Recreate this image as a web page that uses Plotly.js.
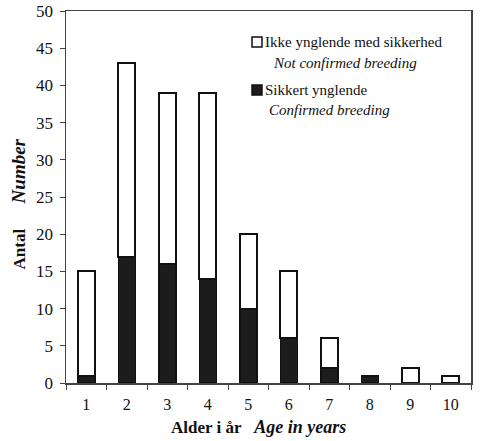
<!DOCTYPE html>
<html>
<head>
<meta charset="utf-8">
<script src="https://cdn.plot.ly/plotly-3.0.1.min.js"></script>
<style>html,body{margin:0;padding:0;background:#fff;}#chart{width:485px;height:441px;}</style>
</head>
<body>
<div id="chart"></div>
<script>
const ages = ['1','2','3','4','5','6','7','8','9','10'];
const confirmed = [1, 17, 16, 14, 10, 6, 2, 1, 0, 0];
const notConfirmed = [14, 26, 23, 25, 10, 9, 4, 0, 2, 1];
const yTicks = [0, 5, 10, 15, 20, 25, 30, 35, 40, 45, 50];
const legendLabels = [
  ['Ikke ynglende med sikkerhed', 'Not confirmed breeding'],
  ['Sikkert ynglende', 'Confirmed breeding']
];
const xTitle = ['Alder i år', 'Age in years'];
const yTitle = ['Antal', 'Number'];

const serif = "'Liberation Serif', 'Times New Roman', serif";
const ink = '#111';
const NB = '\u00a0';

// plot area in pixels (for placing the hand-drawn legend and titles)
const M = {l: 66, r: 14, t: 11, b: 58};
const W = 485, H = 441;
const pw = W - M.l - M.r, ph = H - M.t - M.b;
const px = x => (x - M.l) / pw;
const py = y => 1 - (y - M.t) / ph;

const traces = [
  {
    type: 'bar', x: ages, y: confirmed, name: legendLabels[1].join(' '),
    marker: {color: '#1c1c1c', line: {color: ink, width: 1.5}}
  },
  {
    type: 'bar', x: ages, y: notConfirmed, name: legendLabels[0].join(' '),
    marker: {color: '#ffffff', line: {color: ink, width: 2}}
  }
];

const annFont = {family: serif, size: 15, color: ink};
const ann = (x, y, text, extra) => Object.assign({
  xref: 'paper', yref: 'paper', x: px(x), y: py(y), xanchor: 'left', yanchor: 'middle',
  text: text, showarrow: false, font: annFont, borderpad: 0
}, extra || {});

const layout = {
  width: W, height: H,
  margin: M,
  paper_bgcolor: '#fff', plot_bgcolor: '#fff',
  barmode: 'stack', bargap: 0.58,
  font: {family: serif, color: ink, size: 15},
  showlegend: false,
  shapes: [
    {type: 'rect', xref: 'paper', yref: 'paper', x0: px(252), x1: px(262), y0: py(47), y1: py(37),
     fillcolor: '#fff', line: {color: ink, width: 1.5}},
    {type: 'rect', xref: 'paper', yref: 'paper', x0: px(252), x1: px(262), y0: py(95), y1: py(85),
     fillcolor: '#1c1c1c', line: {color: ink, width: 1.5}}
  ],
  annotations: [
    ann(264, 42, legendLabels[0][0]),
    ann(272, 63, '<i>' + legendLabels[0][1] + '</i>'),
    ann(264, 90, legendLabels[1][0]),
    ann(268, 110, '<i>' + legendLabels[1][1] + '</i>'),
    ann(258.5, 416, '<b>' + xTitle[0] + '</b>' + NB + NB + NB +
        '<b><i><span style="font-size:18px">' + xTitle[1] + '</span></i></b>',
        {xanchor: 'center', yanchor: 'top', font: {family: serif, size: 17, color: ink}}),
    ann(17.5, 204, '<b>' + yTitle[0] + '</b>' + NB.repeat(6) +
        '<b><i><span style="font-size:19px">' + yTitle[1] + '</span></i></b>',
        {xanchor: 'center', textangle: -90, font: {family: serif, size: 17, color: ink}})
  ],
  xaxis: {
    type: 'category', tickson: 'boundaries', ticks: 'outside', ticklen: 5,
    tickcolor: '#444', showline: true, linecolor: '#444', linewidth: 1.5, mirror: true,
    showgrid: false, ticklabelstandoff: 6, tickfont: {family: serif, size: 16, color: ink}
  },
  yaxis: {
    range: [0, 50], tickvals: yTicks, ticktext: yTicks.map(String), ticks: 'outside', ticklen: 5,
    tickcolor: '#444', showline: true, linecolor: '#444', linewidth: 1.5, mirror: true,
    showgrid: false, zeroline: false, ticklabelstandoff: 3, tickfont: {family: serif, size: 17, color: ink}
  }
};

Plotly.newPlot('chart', traces, layout, {displayModeBar: false, staticPlot: true});
</script>
</body>
</html>
